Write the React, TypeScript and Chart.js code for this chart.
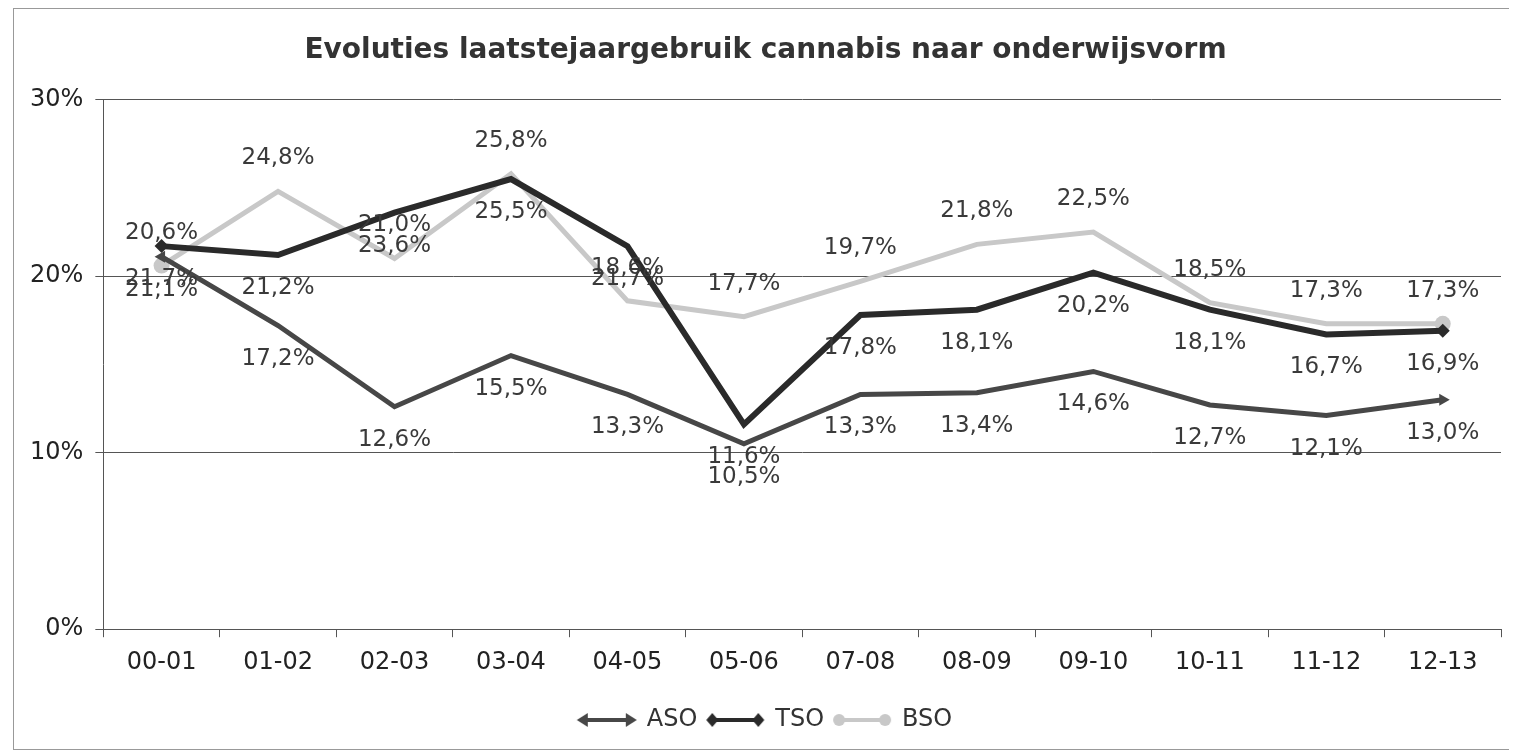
import React, { useEffect, useRef } from "react";
import { Chart, registerables } from "chart.js";

Chart.register(...registerables);

const categories = ["00-01", "01-02", "02-03", "03-04", "04-05", "05-06", "07-08", "08-09", "09-10", "10-11", "11-12", "12-13"];
const asoValues = [21.1, 17.2, 12.6, 15.5, 13.3, 10.5, 13.3, 13.4, 14.6, 12.7, 12.1, 13.0];
const tsoValues = [21.7, 21.2, 23.6, 25.5, 21.7, 11.6, 17.8, 18.1, 20.2, 18.1, 16.7, 16.9];
const bsoValues = [20.6, 24.8, 21.0, 25.8, 18.6, 17.7, 19.7, 21.8, 22.5, 18.5, 17.3, 17.3];
const seriesNames = ["ASO", "TSO", "BSO"];
const yTicks = [0, 10, 20, 30];

const FONT = "'DejaVu Sans', Verdana, sans-serif";
const colors = ["#474747", "#2a2a2a", "#c8c8c8"];
const widths = [5, 6, 5];
const styles = ["triangle", "rectRot", "circle"];
const labelSide = [1, 1, -1]; // 1 = below point, -1 = above

const fmt = (v: number) => v.toFixed(1).replace(".", ",") + "%";

function endsOnly(n: number, r: number) {
  return Array.from({ length: n }, (_, i) => (i === 0 || i === n - 1 ? r : 0));
}

function makeLegendImage(idx: number): HTMLCanvasElement {
  const c = document.createElement("canvas");
  c.width = 62;
  c.height = 20;
  const ctx = c.getContext("2d")!;
  ctx.strokeStyle = colors[idx];
  ctx.fillStyle = colors[idx];
  ctx.lineWidth = 4;
  ctx.beginPath();
  ctx.moveTo(8, 10);
  ctx.lineTo(54, 10);
  ctx.stroke();
  const drawMarker = (x: number, dir: number) => {
    ctx.beginPath();
    if (idx === 0) {
      ctx.moveTo(x + dir * 7, 10);
      ctx.lineTo(x - dir * 4, 3);
      ctx.lineTo(x - dir * 4, 17);
    } else if (idx === 1) {
      ctx.moveTo(x, 3);
      ctx.lineTo(x + 6, 10);
      ctx.lineTo(x, 17);
      ctx.lineTo(x - 6, 10);
    } else {
      ctx.arc(x, 10, 6, 0, Math.PI * 2);
    }
    ctx.closePath();
    ctx.fill();
  };
  drawMarker(8, -1);
  drawMarker(54, 1);
  return c;
}

const dataLabelPlugin = {
  id: "dataLabels",
  afterDatasetsDraw(chart: any) {
    const ctx = chart.ctx;
    ctx.save();
    ctx.font = `23px ${FONT}`;
    ctx.fillStyle = "#3a3a3a";
    ctx.textAlign = "center";
    ctx.textBaseline = "middle";
    chart.data.datasets.forEach((ds: any, di: number) => {
      const meta = chart.getDatasetMeta(di);
      meta.data.forEach((pt: any, i: number) => {
        ctx.fillText(fmt(ds.data[i]), pt.x, pt.y + labelSide[di] * 33);
      });
    });
    ctx.restore();
  },
};

export default function App() {
  const ref = useRef<HTMLCanvasElement>(null);

  useEffect(() => {
    if (!ref.current) return;
    const n = categories.length;
    const allValues = [asoValues, tsoValues, bsoValues];
    const chart = new Chart(ref.current, {
      type: "line",
      data: {
        labels: categories,
        datasets: allValues.map((vals, i) => ({
          label: seriesNames[i],
          data: vals,
          borderColor: colors[i],
          backgroundColor: colors[i],
          borderWidth: widths[i],
          pointStyle: styles[i] as any,
          pointRadius: endsOnly(n, i === 2 ? 8 : 7),
          pointRotation: i === 0 ? Array.from({ length: n }, (_, k) => (k === 0 ? -90 : 90)) : 0,
          pointBorderWidth: 0,
          pointBackgroundColor: colors[i],
          fill: false,
          tension: 0,
        })),
      },
      options: {
        animation: false,
        responsive: true,
        maintainAspectRatio: false,
        layout: { padding: { left: 4, right: -4, bottom: 7, top: 1 } },
        plugins: {
          title: {
            display: true,
            text: "Evoluties laatstejaargebruik cannabis naar onderwijsvorm",
            color: "#333",
            font: { family: FONT, size: 28, weight: "bold" },
            padding: { top: 24, bottom: 32 },
          },
          legend: {
            position: "bottom",
            labels: {
              usePointStyle: true,
              pointStyleWidth: 56,
              padding: 10,
              color: "#333",
              font: { family: FONT, size: 24 },
              generateLabels: (ch: any) =>
                ch.data.datasets.map((ds: any, i: number) => ({
                  text: ds.label,
                  pointStyle: makeLegendImage(i),
                  fillStyle: colors[i],
                  strokeStyle: colors[i],
                  lineWidth: 0,
                  hidden: false,
                  datasetIndex: i,
                  fontColor: "#333",
                })),
            },
          },
          tooltip: { enabled: false },
        },
        scales: {
          x: {
            offset: true,
            grid: { display: true, drawOnChartArea: false, drawTicks: true, tickLength: 8, color: "#555", offset: true },
            border: { display: true, color: "#555", width: 1 },
            ticks: { color: "#222", padding: 11, font: { family: FONT, size: 24 } },
            afterFit: (scale: any) => {
              scale.height += 10;
            },
          },
          y: {
            min: 0,
            max: 30,
            afterBuildTicks: (scale: any) => {
              scale.ticks = yTicks.map((v) => ({ value: v }));
            },
            grid: { color: "#555", lineWidth: 1, tickLength: 8 },
            border: { display: true, color: "#555", width: 1 },
            ticks: {
              color: "#222",
              padding: 12,
              font: { family: FONT, size: 24 },
              callback: (v: any) => v + "%",
            },
          },
        },
      },
      plugins: [dataLabelPlugin],
    });
    return () => chart.destroy();
  }, []);

  return (
    <div
      style={{
        marginLeft: 5,
        width: 1495,
        height: 740,
        border: "1px solid #999",
        position: "relative",
        background: "#fff",
      }}
    >
      <canvas ref={ref} />
    </div>
  );
}
